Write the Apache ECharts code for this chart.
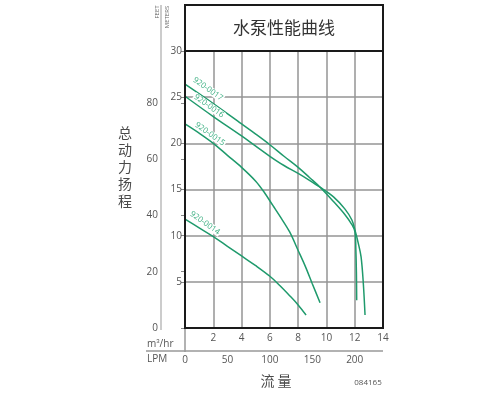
<!DOCTYPE html>
<html><head><meta charset="utf-8">
<script src="https://cdn.jsdelivr.net/npm/echarts@6/dist/echarts.min.js"></script>
<style>html,body{margin:0;padding:0;background:#fff}#c{width:500px;height:396px}</style>
</head><body><div id="c"></div>
<script>
// Data (x: flow m3/hr, y: head meters)
const curveNames = ['920-0017', '920-0016', '920-0015', '920-0014'];
const pump0017 = [[0,26.4],[2,24.3],[4,22.1],[5,21.0],[6,19.85],[7,18.6],[8,17.4],[8.8,16.3],[9.55,15.25],[10.5,13.7],[11.3,12.3],[11.8,11.2],[12.02,10.4],[12.08,8.5],[12.12,6.0],[12.14,3.0]];
const pump0016 = [[0,25.1],[2,22.9],[4,20.8],[5,19.7],[6,18.6],[7,17.6],[8,16.75],[8.8,16.0],[9.55,15.25],[10.5,14.2],[11.3,12.9],[11.8,11.7],[12.02,10.6],[12.25,9.2],[12.45,7.7],[12.61,4.8],[12.73,1.4]];
const pump0015 = [[0,22.1],[1,21.1],[2,20.0],[3,18.7],[4,17.4],[5,15.9],[5.6,14.7],[6.2,13.3],[6.8,11.9],[7.4,10.4],[8,8.4],[8.5,6.7],[9,4.8],[9.55,2.74]];
const pump0014 = [[0,11.8],[1,10.85],[2,9.9],[3,8.85],[4,7.8],[5,6.75],[6,5.6],[6.7,4.6],[7.4,3.5],[8,2.5],[8.56,1.4]];
const m3hrTicks = [0, 2, 4, 6, 8, 10, 12, 14];
const lpmTicks = [0, 50, 100, 150, 200];
const meterTicks = [0, 5, 10, 15, 20, 25, 30];
const feetTicks = [0, 20, 40, 60, 80];
const titleText = '水泵性能曲线';
const yTitle = '总动力扬程';
const xTitle = '流 量';
const codeText = '084165';

const green = '#1f9a6c';
const labelGreen = '#3aae80';
const grey = '#555';
const gridGrey = '#959595';
const font = 'Open Sans, Lato, sans-serif';

const chart = echarts.init(document.getElementById('c'), null, {renderer: 'canvas'});
const seriesData = [pump0017, pump0016, pump0015, pump0014];

chart.setOption({
  animation: false,
  backgroundColor: '#fff',
  grid: {left: 185, top: 51, width: 198, height: 277, show: false},
  xAxis: [{
    type: 'value', min: m3hrTicks[0], max: m3hrTicks[m3hrTicks.length-1], interval: 2, position: 'bottom',
    axisLine: {show: false}, axisTick: {show: false},
    axisLabel: {color: grey, fontSize: 10, fontFamily: font, margin: 5, formatter: v => v === 0 ? '' : String(v)},
    splitLine: {show: true, lineStyle: {color: gridGrey, width: 1.5}}
  }, {
    type: 'value', min: 0, max: 14 * 1000 / 60, interval: 50, position: 'bottom', offset: 23,
    axisLine: {show: false}, axisTick: {show: false},
    axisLabel: {color: grey, fontSize: 10, fontFamily: font, margin: 4, showMaxLabel: false,
      formatter: v => lpmTicks.indexOf(v) >= 0 ? String(v) : ''},
    splitLine: {show: false}
  }],
  yAxis: [{
    type: 'value', min: meterTicks[0], max: meterTicks[meterTicks.length-1], interval: 5, position: 'left',
    axisLine: {show: false},
    axisTick: {show: true, length: 4, lineStyle: {color: '#888', width: 1}},
    axisLabel: {color: grey, fontSize: 10, fontFamily: font, margin: 3, formatter: v => v === 0 ? '' : String(v)},
    splitLine: {show: true, lineStyle: {color: gridGrey, width: 1.5}}
  }, {
    type: 'value', min: 0, max: 30 / 0.3048, interval: 20, position: 'left', offset: 24,
    axisLine: {show: false},
    axisTick: {show: true, length: 4, lineStyle: {color: '#888', width: 1}},
    axisLabel: {color: grey, fontSize: 10, fontFamily: font, margin: 3, showMaxLabel: false,
      formatter: v => feetTicks.indexOf(v) >= 0 ? String(v) : ''},
    splitLine: {show: false}
  }],
  series: seriesData.map((d, i) => ({
    name: curveNames[i], type: 'line', data: d, xAxisIndex: 0, yAxisIndex: 0,
    smooth: 0.35, showSymbol: false, symbol: 'none',
    lineStyle: {color: green, width: 1.5}, z: 3
  })),
  graphic: [
    {type: 'rect', shape: {x: 185, y: 5, width: 198, height: 323}, style: {fill: 'none', stroke: '#1a1a1a', lineWidth: 2}, z: 100},
    {type: 'line', shape: {x1: 185, y1: 51, x2: 383, y2: 51}, style: {stroke: '#1a1a1a', lineWidth: 2}, z: 100},
    {type: 'text', x: 284, y: 28, style: {text: titleText, font: '17px "Noto Sans CJK SC", sans-serif', fill: '#333', align: 'center', verticalAlign: 'middle'}, z: 100},
    {type: 'line', shape: {x1: 161, y1: 5, x2: 161, y2: 330}, style: {stroke: '#999', lineWidth: 1}, z: 50},
    {type: 'line', shape: {x1: 185, y1: 328, x2: 185, y2: 352}, style: {stroke: '#999', lineWidth: 1.5}, z: 50},
    {type: 'line', shape: {x1: 146, y1: 351, x2: 383, y2: 351}, style: {stroke: '#999', lineWidth: 1.5}, z: 50},
    {type: 'text', x: 157, y: 12, rotation: Math.PI / 2, style: {text: 'FEET', font: '6px ' + font, fill: '#666', align: 'center', verticalAlign: 'middle'}, z: 100},
    {type: 'text', x: 167, y: 17, rotation: Math.PI / 2, style: {text: 'METERS', font: '6px ' + font, fill: '#666', align: 'center', verticalAlign: 'middle'}, z: 100},
    {type: 'text', x: 125, y: 167, style: {text: yTitle.split('').join('\n'), font: '14px "Noto Sans CJK SC", sans-serif', lineHeight: 17, fill: '#4a4a4a', align: 'center', verticalAlign: 'middle'}, z: 100},
    {type: 'text', x: 276, y: 381, style: {text: xTitle, font: '14px "Noto Sans CJK SC", sans-serif', fill: '#4a4a4a', align: 'center', verticalAlign: 'middle'}, z: 100},
    {type: 'text', x: 368, y: 383, style: {text: codeText, font: '8px ' + font, fill: '#555', align: 'center', verticalAlign: 'middle'}, z: 100},
    {type: 'text', x: 147, y: 344, style: {text: 'm{s|3}/hr', rich: {s: {fontSize: 6, verticalAlign: 'top', padding: [0,0,6,0]}}, font: '10px ' + font, fill: grey, align: 'left', verticalAlign: 'middle'}, z: 100},
    {type: 'text', x: 147, y: 359, style: {text: 'LPM', font: '10px ' + font, fill: grey, align: 'left', verticalAlign: 'middle'}, z: 100},
    {type: 'text', x: 208, y: 89, rotation: -35 * Math.PI / 180, style: {text: curveNames[0], font: '8px ' + font, fill: labelGreen, align: 'center', verticalAlign: 'middle', backgroundColor: '#fff', padding: [0, 1]}, z: 90},
    {type: 'text', x: 209, y: 106, rotation: -35 * Math.PI / 180, style: {text: curveNames[1], font: '8px ' + font, fill: labelGreen, align: 'center', verticalAlign: 'middle', backgroundColor: '#fff', padding: [0, 1]}, z: 90},
    {type: 'text', x: 210, y: 134, rotation: -35 * Math.PI / 180, style: {text: curveNames[2], font: '8px ' + font, fill: labelGreen, align: 'center', verticalAlign: 'middle', backgroundColor: '#fff', padding: [0, 1]}, z: 90},
    {type: 'text', x: 205, y: 223, rotation: -35 * Math.PI / 180, style: {text: curveNames[3], font: '8px ' + font, fill: labelGreen, align: 'center', verticalAlign: 'middle', backgroundColor: '#fff', padding: [0, 1]}, z: 90}
  ]
});
</script>
</body></html>
